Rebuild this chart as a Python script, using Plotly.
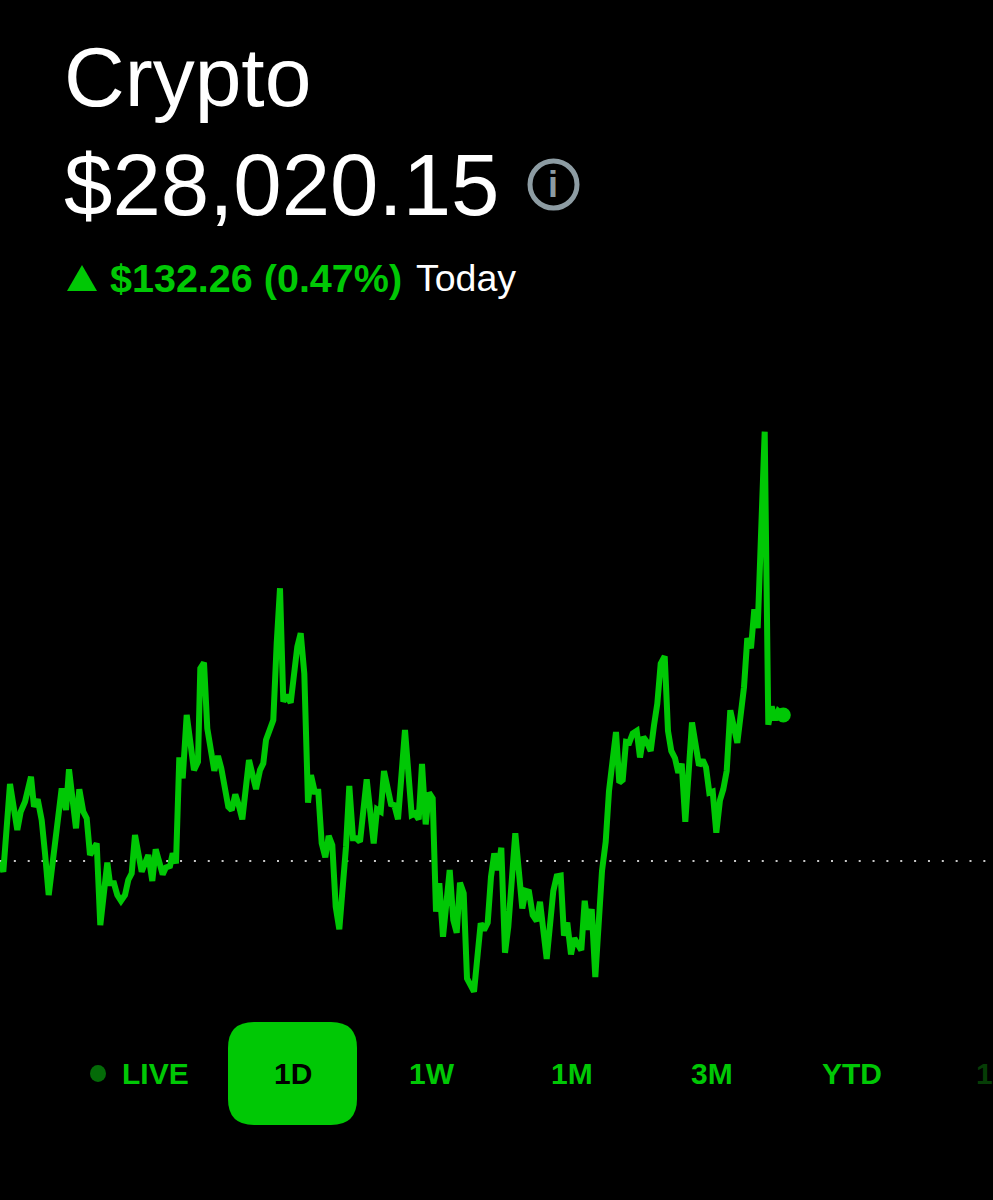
import plotly.graph_objects as go

W, H = 993, 1200
PREV_CLOSE = 27887.89

# chart position along the trading day (chart units)
t = [0,3.3,10,17.3,20.7,25,31,34,37.7,41.7,45,48.7,61.7,66,69,76,79.3,83.3,86.7,90,96.7,100.3,107.3,110,114,117.3,121,125,128.3,131.7,135,141.7,148.3,152.3,155.7,162.7,166,170,172.7,176,179.3,182.7,186.7,194,198,200.3,204,207.3,214.3,218,221.3,225,228.3,231.7,235.3,238.7,242.3,249,256,260,263.3,266,273.3,276.7,280,283.3,286.7,290.7,297.3,300.7,304.3,308,311,314.7,318.3,321.7,325.3,328.7,332.3,335.7,339.3,346,349.3,353,356.3,360,366.7,373.7,377,380.7,384,391,394.3,398,405,411.7,415,418.7,422,425.7,429,432.7,436,439.3,443,449.7,453.3,456.7,460,463.7,467,474,480.7,484,487.7,491,494.3,498,501.3,505,508.3,515.3,522.3,525.7,529,532.7,536.7,540,546.7,553.3,556.7,560.7,564,567.3,571,574.3,577.7,581.3,584.7,588.3,591.7,595.3,602,605.7,609,616,619.3,622.7,626,629.3,632.7,636.7,640,643.3,646.7,650.7,654,657.3,660.7,664.7,668,671.3,675,678.3,681.7,685.3,692,699,702.7,706,709.3,712.7,716.3,720,723.3,726.7,730.3,737.3,744,747.3,751,754.3,757.7,761,764.7,768.3,771.7,775,778.3,783.3]

# gain against previous close, dollars
gain = [-0.6,-9.7,69.8,28.1,44.7,53.7,76.4,49.2,55.9,37.1,7.0,-30.8,65.9,46.2,83.1,29.6,65,44.7,38.7,5.4,16,-58,-1.5,-20.2,-20.2,-30.8,-36,-30.8,-17.2,-11.1,23.6,-9.7,5.4,-18.1,10.6,-12.1,-5.7,-4.5,7,-2.1,93.9,74.9,132.3,82.4,90,174.6,179.7,120.2,81.8,95.1,84,61.3,49.2,46.2,60.4,50.7,37.8,91.5,65.2,82.4,88.5,109.6,127.7,197.2,247.1,144.3,150.4,143.4,194.2,206.3,170,52.8,77.9,62.8,62.8,16,3.4,22.7,14.5,-41.4,-61.9,13,68,20.6,20.6,17.5,74,16,46.8,44.7,81.5,51.6,50.7,37.8,118.7,41.7,43.2,37.8,87.9,33.2,61.9,56.8,-45.9,-20.2,-68.6,-8.2,-53.5,-65,-19.7,-29.3,-106.3,-118.4,-56.4,-62.5,-55.9,-14.2,7,-8.2,12,-83.1,-59.5,25.1,-42.9,-26.9,-27.8,-49.1,-54.4,-37,-88.7,-27.1,-13.9,-13.2,-67.6,-55.7,-84.7,-69.9,-74.8,-80.7,-36,-62.3,-43.5,-105.1,-9,17.4,63.5,116.9,71.1,73.4,108,107.4,115.6,117.9,93.9,112.3,108,99.7,122.9,142.6,178.8,185.5,117.9,99.7,93.2,80,88.2,35.5,125.5,86.6,91.5,85,61.9,62.9,25.6,55.3,65.1,81.6,136.6,107,157.4,201.9,192.7,228.2,211.1,294.1,389,123.5,140,127.7,136,132.26]

value = [round(PREV_CLOSE + g, 2) for g in gain]

ranges = ["LIVE", "1D", "1W", "1M", "3M", "YTD", "1"]
range_x = [155.5, 293, 432, 572, 712, 852, 984]

GREEN = "#00c805"
px = lambda x: x / W
py = lambda y: 1 - y / H

fig = go.Figure()
fig.add_trace(go.Scatter(x=[0, W], y=[PREV_CLOSE, PREV_CLOSE], mode="lines",
                         line=dict(color="#c8c8c8", width=2, dash="2px,11.85px"), hoverinfo="skip"))
fig.add_trace(go.Scatter(x=t, y=value, mode="lines",
                         line=dict(color=GREEN, width=6, shape="linear"), hoverinfo="skip"))
fig.add_trace(go.Scatter(x=[t[-1]], y=[value[-1]], mode="markers",
                         marker=dict(color=GREEN, size=15), hoverinfo="skip"))

FONT = "Liberation Sans"
def label(text, x, y, size, color, anchor="left"):
    fig.add_annotation(text=text, x=px(x), y=py(y), xref="paper", yref="paper",
                       xanchor=anchor, yanchor="middle", showarrow=False, borderpad=0,
                       font=dict(family=FONT, size=size, color=color))

label("Crypto", 63, 77, 84, "#ffffff")
label("$28,020.15", 63, 184, 87, "#ffffff")
label("<b>$132.26 (0.47%)</b>", 109, 278, 39.5, GREEN)
label("Today", 415, 278, 37.5, "#ffffff")
label("<b>i</b>", 553, 184, 36, "#8d9ca3", "center")

for name, x in zip(ranges, range_x):
    color = {"1D": "#000000", "1": "#063d06"}.get(name, GREEN)
    label(f"<b>{name}</b>", x, 1073, 30, color, "center")

def rr(x0, y0, x1, y1, r):
    X0, X1 = px(x0), px(x1)
    Y0, Y1 = py(y0), py(y1)
    rx, ry = r / W, r / H
    return (f"M{X0+rx},{Y0} L{X1-rx},{Y0} Q{X1},{Y0} {X1},{Y0-ry} L{X1},{Y1+ry} Q{X1},{Y1} {X1-rx},{Y1} "
            f"L{X0+rx},{Y1} Q{X0},{Y1} {X0},{Y1+ry} L{X0},{Y0-ry} Q{X0},{Y0} {X0+rx},{Y0} Z")

shapes = [
    dict(type="path", xref="paper", yref="paper", path=rr(228, 1022, 357, 1125, 26),
         fillcolor=GREEN, line_width=0, layer="below"),
    dict(type="path", xref="paper", yref="paper",
         path=f"M{px(67)},{py(291)} L{px(97)},{py(291)} L{px(82)},{py(265)} Z",
         fillcolor=GREEN, line_width=0),
    dict(type="circle", xref="paper", yref="paper", x0=px(90), x1=px(106), y0=py(1065), y1=py(1082),
         fillcolor="#046b08", line_width=0),
    dict(type="circle", xref="paper", yref="paper", x0=px(530), x1=px(577), y0=py(161), y1=py(208),
         line=dict(color="#8d9ca3", width=5)),
]

fig.update_layout(
    width=W, height=H, margin=dict(l=0, r=0, t=0, b=0),
    paper_bgcolor="#000000", plot_bgcolor="#000000", showlegend=False,
    shapes=shapes,
    xaxis=dict(range=[0, W], visible=False, fixedrange=True),
    yaxis=dict(range=[PREV_CLOSE - 307.1, PREV_CLOSE + 780.1], visible=False, fixedrange=True),
)

fig.write_html("out.html", config={"displayModeBar": False},
               post_script="document.body.style.margin='0';document.body.style.background='#000';document.documentElement.style.overflow='hidden';")
